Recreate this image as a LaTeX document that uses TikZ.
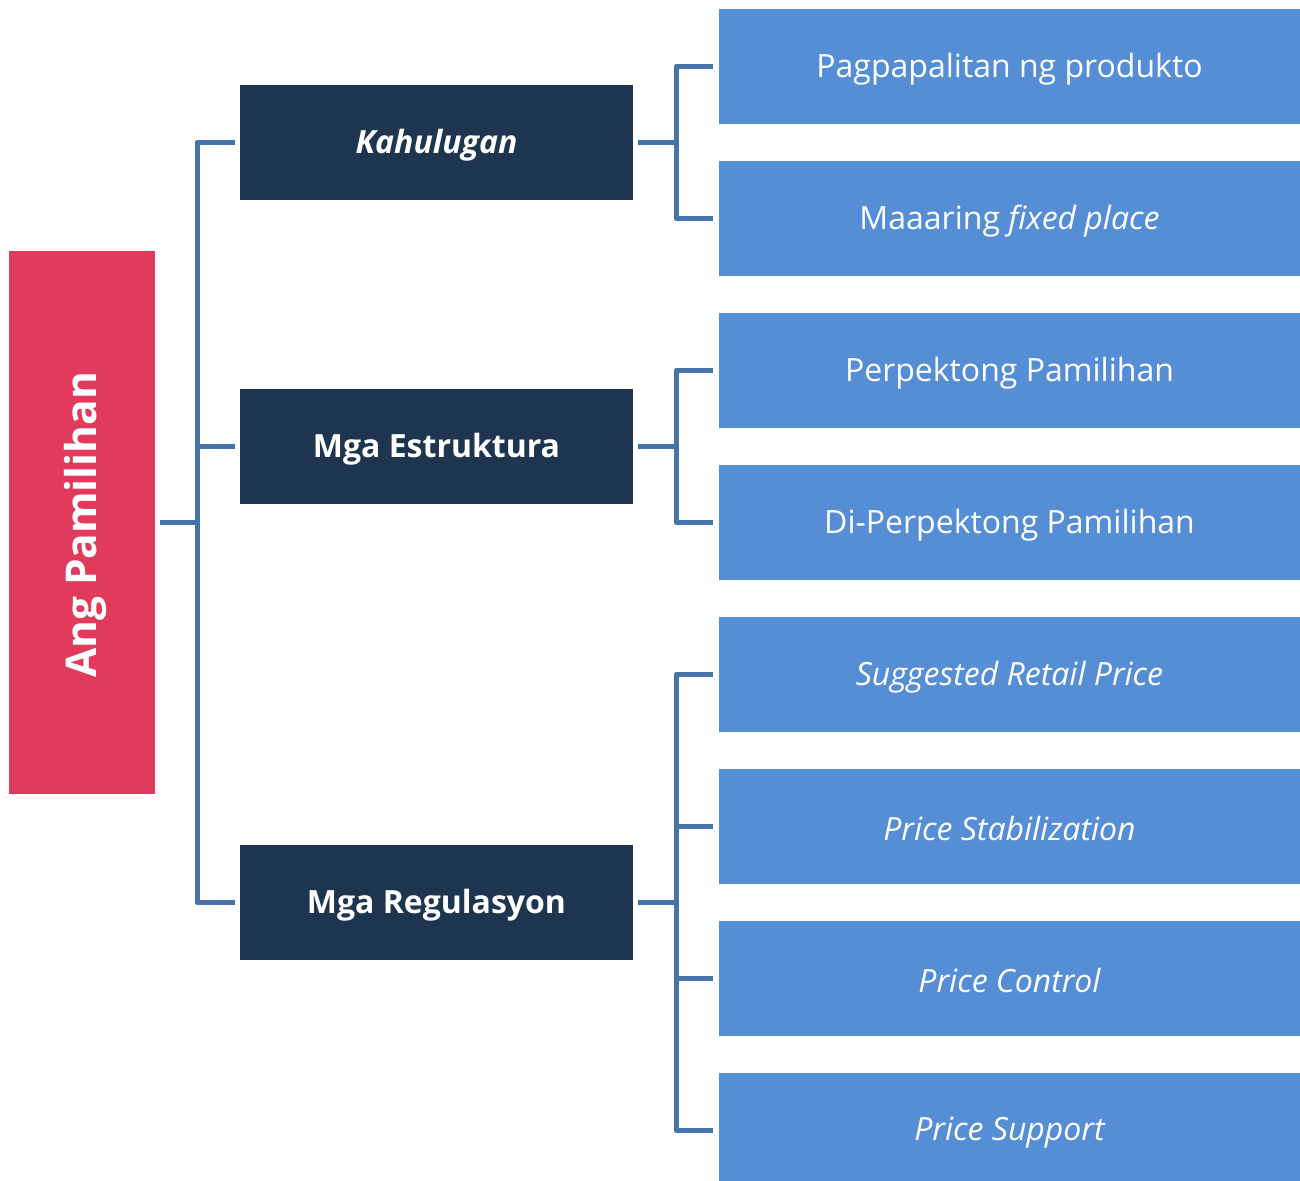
\documentclass[tikz,border=0pt]{standalone}
\usepackage{fontspec}
\setmainfont{Open Sans}
\definecolor{rootred}{HTML}{E13A5C}
\definecolor{darkbox}{HTML}{1E354F}
\definecolor{leafblue}{HTML}{558ED5}
\definecolor{linkblue}{HTML}{4672AA}
\begin{document}
\begin{tikzpicture}[x=0.5pt,y=-0.5pt,
  rootbox/.style={fill=rootred,minimum width=73pt,minimum height=271.5pt,inner sep=0pt},
  midbox/.style={fill=darkbox,minimum width=196.5pt,minimum height=57.5pt,inner sep=0pt},
  leafbox/.style={fill=leafblue,minimum width=290.5pt,minimum height=57.5pt,inner sep=0pt},
  lbl/.style={text=white,inner sep=0pt,yshift=-1.2pt},
  link/.style={draw=linkblue,line width=2.5pt,line join=round}]
\useasboundingbox (0,0) rectangle (1300,1181);
\node[rootbox] (root) at (82,522.5) {};
\node[lbl,font=\fontsize{21.2}{24}\selectfont\bfseries,rotate=90,yshift=-1.5pt] (roott) at (root.center) {Ang Pamilihan};
\node[midbox] (k) at (436.5,142.5) {};
\node[midbox] (e) at (436.5,446.5) {};
\node[midbox] (r) at (436.5,902.5) {};
\node[leafbox] (l1) at (1009.5,66.5) {};
\node[leafbox] (l2) at (1009.5,218.5) {};
\node[leafbox] (l3) at (1009.5,370.5) {};
\node[leafbox] (l4) at (1009.5,522.5) {};
\node[leafbox] (l5) at (1009.5,674.5) {};
\node[leafbox] (l6) at (1009.5,826.5) {};
\node[leafbox] (l7) at (1009.5,978.5) {};
\node[leafbox] (l8) at (1009.5,1130.5) {};
\begin{scope}[every node/.style={lbl,font=\fontsize{16}{19}\selectfont\bfseries}]
\node (kt) at (k.center) {\itshape Kahulugan};
\node (et) at (e.center) {Mga Estruktura};
\node (rt) at (r.center) {Mga Regulasyon};
\end{scope}
\begin{scope}[every node/.style={lbl,font=\fontsize{16}{19}\selectfont}]
\node (l1t) at (l1.center) {Pagpapalitan ng produkto};
\node (l2t) at (l2.center) {Maaaring \textit{fixed place}};
\node (l3t) at (l3.center) {Perpektong Pamilihan};
\node (l4t) at (l4.center) {Di-Perpektong Pamilihan};
\node (l5t) at (l5.center) {\itshape Suggested Retail Price};
\node (l6t) at (l6.center) {\itshape Price Stabilization};
\node (l7t) at (l7.center) {\itshape Price Control};
\node (l8t) at (l8.center) {\itshape Price Support};
\end{scope}
% root connectors
\coordinate (rj) at (197,522.5);
\draw[link] ([xshift=2.5pt]root.east) -- (rj);
\foreach \t in {k,e,r}{
  \draw[link] (rj) |- ([xshift=-2.5pt]\t.west);
}
% Kahulugan
\coordinate (kj) at (676,142.5);
\draw[link] ([xshift=2.5pt]k.east) -- (kj);
\foreach \t in {l1,l2}{\draw[link] (kj) |- ([xshift=-3pt]\t.west);}
% Estruktura
\coordinate (ej) at (676,446.5);
\draw[link] ([xshift=2.5pt]e.east) -- (ej);
\foreach \t in {l3,l4}{\draw[link] (ej) |- ([xshift=-3pt]\t.west);}
% Regulasyon
\coordinate (rgj) at (676,902.5);
\draw[link] ([xshift=2.5pt]r.east) -- (rgj);
\foreach \t in {l5,l6,l7,l8}{\draw[link] (rgj) |- ([xshift=-3pt]\t.west);}
\end{tikzpicture}
\end{document}
